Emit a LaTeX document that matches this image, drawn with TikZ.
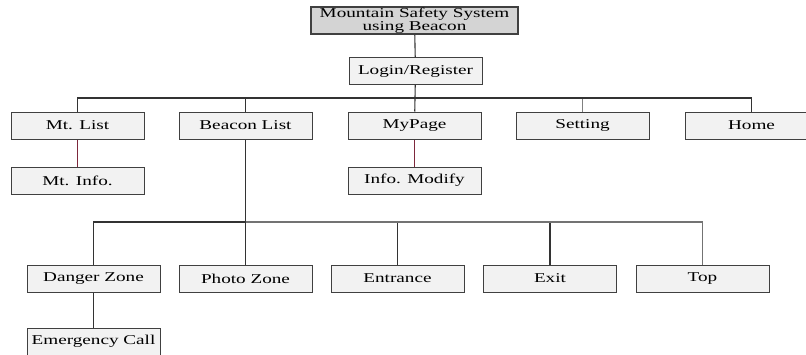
\documentclass[tikz,border=0pt]{standalone}
\usepackage{fontspec}
\setmainfont[FakeStretch=1.42]{Liberation Serif}
\definecolor{linkred}{RGB}{125,40,60}
\tikzset{
  box/.style={draw=black!75, fill=black!5, line width=1pt,
    minimum width=133pt, minimum height=27pt, inner sep=0pt,
    font=\fontsize{13.5}{13}\selectfont},
  titlebox/.style={box, fill=black!17, line width=2pt,
    minimum width=207pt, align=center,
    font=\fontsize{13.5}{11.5}\selectfont},
  link/.style={draw=black!80, line width=1.1pt}
}
\begin{document}
\begin{tikzpicture}[x=1pt,y=-1pt]
      \clip (0,0) rectangle (806,354);
      \fill[white] (0,0) rectangle (806,354);
      \draw
        (414.5,20.5) node[titlebox] (title){Mountain Safety System\\using Beacon}
        (415.5,71) node[box] (login){Login/Register}
        (77.5,125.5) node[box] (mtlist){Mt. List}
        (245.5,125.5) node[box] (beacon){Beacon List}
        (414.5,125.5) node[box] (mypage){MyPage}
        (582.5,125.5) node[box] (setting){Setting}
        (751.5,125.5) node[box] (home){Home}
        (77.5,180.5) node[box] (mtinfo){Mt. Info.}
        (414.5,180.5) node[box] (modify){Info. Modify}
        (93.5,278.5) node[box] (danger){Danger Zone}
        (245.5,278.5) node[box] (photo){Photo Zone}
        (397.5,278.5) node[box] (entrance){Entrance}
        (550,278.5) node[box] (exit){Exit}
        (702.5,278.5) node[box] (top){Top}
        (93.5,341.5) node[box] (emergency){Emergency Call};
      \coordinate (bus1) at (415,98);
      \coordinate (bus2) at (245.5,222);
      \begin{scope}[link]
        \draw (title) to (login);
        \draw (login) to (bus1);
        \draw (bus1) -| (mtlist);
        \draw (bus1) -| (beacon);
        \draw (bus1) to (mypage);
        \draw[draw=black!50] (bus1) -| (setting);
        \draw (bus1) -| (home);
        \draw[draw=linkred] (mtlist) to (mtinfo);
        \draw[draw=linkred] (mypage) to (modify);
        \draw (beacon) to (bus2);
        \draw (bus2) -| (danger);
        \draw (bus2) to (photo);
        \draw (bus2) -| (entrance);
        \draw (bus2) -| (exit);
        \draw[draw=black!55] (bus2) -| (top);
        \draw (danger) to (emergency);
      \end{scope}
    \end{tikzpicture}
\end{document}
